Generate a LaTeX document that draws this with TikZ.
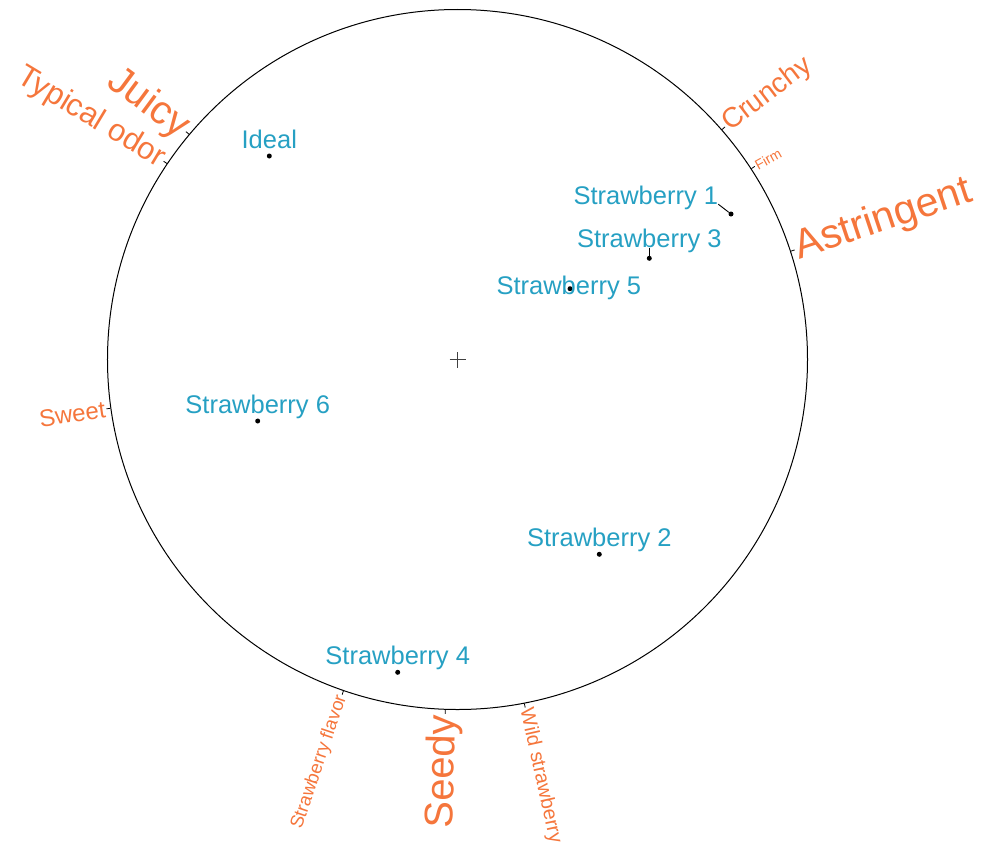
\documentclass[tikz,border=0pt]{standalone}
\usepackage{fontspec}
\setmainfont{Liberation Sans}
\usepackage{tikz}
\usetikzlibrary{positioning,calc}
\definecolor{pointblue}{RGB}{38,160,195}
\definecolor{attrorange}{RGB}{245,118,60}

\begin{document}
\begin{tikzpicture}[x=1pt,y=1pt,node distance=5pt]
\tikzset{PointStyle/.style = {shape        = circle,
                              fill         = black,
                              inner sep    = 0pt,
                              minimum size = 5pt},
         LabelStyle/.style = {text       = pointblue,
                              inner sep  = 0pt,
                              text depth = 0pt,
                              font       = \fontsize{25.5}{30}\selectfont},
         AttrStyle/.style  = {text      = attrorange,
                              inner sep = 1pt}}
     \useasboundingbox (-457.5,-487.5) rectangle (523.5,359.5);
     \node[circle,draw,line width=1pt,minimum size=700pt,inner sep=0pt](Map) at (0,0){};
     \draw[line width=1.3pt,black!75](-8,0) -- (8,0) (0,-8) -- (0,8);
     % attributes, right side
     \foreach \ang/\rot/\sz/\nm/\txt in {41.5/37.3/28/Crunchy/Crunchy, 33.9/29/14/Firm/Firm,
                                         18.5/18.5/41/Astringent/Astringent, 281.9/-77.5/20/Wild/Wild strawberry}{
       \draw[line width=0.8pt](Map.\ang) -- ++(\ang:4) coordinate (T\nm);
       \node[AttrStyle,rotate=\rot,anchor=west,font=\fontsize{\sz}{\sz}\selectfont](\nm) at (T\nm){\txt};
     }
     % attributes, left side
     \foreach \ang/\rot/\sz/\nm/\txt in {140.8/-36.5/40/Juicy/Juicy, 146.1/-31/31/Odor/Typical odor,
                                         188.1/8.5/24/Sweet/Sweet, 251.8/71.3/18.5/Flavor/Strawberry flavor,
                                         268.5/88.5/40/Seedy/Seedy}{
       \draw[line width=0.8pt](Map.\ang) -- ++(\ang:4) coordinate (T\nm);
       \node[AttrStyle,rotate=\rot,anchor=east,font=\fontsize{\sz}{\sz}\selectfont](\nm) at (T\nm){\txt};
     }
     % products
     \node[PointStyle](Ideal) at (-188.2,203.5){};
     \node[PointStyle](S1) at (273.5,145.5){};
     \node[PointStyle](S2) at (141.8,-194.8){};
     \node[PointStyle](S3) at (191.8,101.2){};
     \node[PointStyle](S4) at (-59.8,-312.8){};
     \node[PointStyle](S5) at (112.5,70.8){};
     \node[PointStyle](S6) at (-199.8,-61.5){};
     \node[LabelStyle,above=of Ideal](IdealL){Ideal};
     \node[LabelStyle,anchor=base](S1L) at ($(S1)+(-85.2,10)$){Strawberry 1};
     \node[LabelStyle,above=of S2](S2L){Strawberry 2};
     \node[LabelStyle,above=7.5pt of S3](S3L){Strawberry 3};
     \node[LabelStyle,above=of S4](S4L){Strawberry 4};
     \node[LabelStyle,anchor=base](S5L) at ($(S5)+(-1.2,-6)$){Strawberry 5};
     \node[LabelStyle,above=of S6](S6L){Strawberry 6};
     \draw[line width=0.9pt](S1L.south east) -- (S1);
     \draw[line width=0.9pt](S3L) -- (S3);
\end{tikzpicture}
\end{document}
